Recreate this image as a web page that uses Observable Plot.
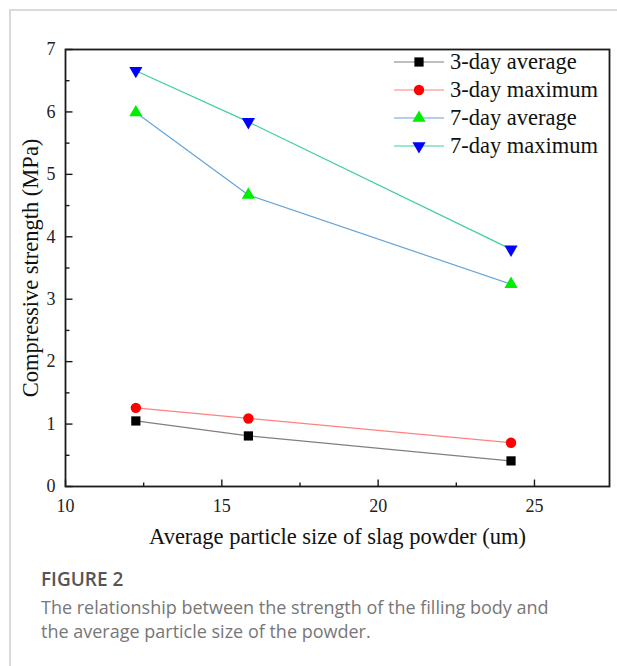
<!DOCTYPE html>
<html>
<head>
<meta charset="utf-8">
<script src="https://cdn.jsdelivr.net/npm/d3@7"></script>
<script src="https://cdn.jsdelivr.net/npm/@observablehq/plot@0.6"></script>
<style>
  html, body { margin: 0; padding: 0; background: #fff; }
  #wrap { position: relative; width: 617px; height: 666px; overflow: hidden; }
  #card { position: absolute; left: 9px; top: 9px; right: -5px; bottom: -5px;
          border-left: 2px solid #dadada; border-top: 2px solid #dadada; }
  #chart { position: absolute; left: 0; top: 0; }
  #legend { position: absolute; left: 394px; top: 48px;
            font-family: 'Liberation Serif', 'Times New Roman', serif; font-size: 22.5px; color: #111; }
  .row { height: 28px; display: flex; align-items: center; }
  .row svg { margin-right: 6px; }
  #caption { position: absolute; left: 41px; top: 567px; font-family: 'Open Sans', sans-serif; }
  #caption .fig { font-size: 19px; font-weight: 600; color: #555; line-height: 24px; }
  #caption .txt { font-size: 18px; color: #777; line-height: 24px; margin-top: 4px; }
</style>
</head>
<body>
<div id="wrap">
  <div id="card"></div>
  <div id="chart"></div>
  <div id="legend"></div>
  <div id="caption">
    <div class="fig">FIGURE 2</div>
    <div class="txt">The relationship between the strength of the filling body and<br>the average particle size of the powder.</div>
  </div>
</div>
<script>
// ---- data ----
const particleSize = [12.25, 15.85, 24.25];
const avg3day = [1.05, 0.81, 0.41];
const max3day = [1.26, 1.09, 0.70];
const avg7day = [5.99, 4.67, 3.24];
const max7day = [6.66, 5.84, 3.80];
const seriesNames = ["3-day average", "3-day maximum", "7-day average", "7-day maximum"];
const xMajorTicks = [10, 15, 20, 25];
const xMinorTicks = [12.5, 17.5, 22.5];
const yMajorTicks = [0, 1, 2, 3, 4, 5, 6, 7];
const yMinorTicks = [0.5, 1.5, 2.5, 3.5, 4.5, 5.5, 6.5];
const xLabel = "Average particle size of slag powder (um)";
const yLabel = "Compressive strength (MPa)";

// ---- styles ----
const serif = "'Liberation Serif', 'Times New Roman', serif";
const seriesValues = [avg3day, max3day, avg7day, max7day];
const lineColors = ["#7f7f7f", "#ff8080", "#64a4d8", "#3fcf9f"];
const markColors = ["#000000", "#ff0000", "#00ee00", "#0000ff"];
const symbols = ["square", "circle", "triangle", "triangle"];
const rotations = [0, 0, 0, 180];
const radii = [5.2, 5.2, 4.9, 4.9];

const rows = seriesValues.map((vals, k) => particleSize.map((s, i) => ({size: s, value: vals[i], k})));

const tickShape = {draw(context, l) { context.moveTo(0, 0); context.lineTo(0, -l); }};
const ink = "#1a1a1a";

const marks = [];
rows.forEach((data, k) => {
  marks.push(Plot.line(data, {x: "size", y: "value", stroke: lineColors[k], strokeWidth: 1.2}));
});
rows.forEach((data, k) => {
  marks.push(Plot.dot(data, {x: "size", y: "value", symbol: symbols[k], r: radii[k], fill: markColors[k], stroke: "none", rotate: rotations[k]}));
});
// inward ticks
marks.push(Plot.vector(yMajorTicks, {y: d => d, frameAnchor: "left", rotate: 90, length: 7, anchor: "start", shape: tickShape, stroke: ink, strokeWidth: 1.4, strokeLinecap: "butt"}));
marks.push(Plot.vector(yMinorTicks, {y: d => d, frameAnchor: "left", rotate: 90, length: 4, anchor: "start", shape: tickShape, stroke: ink, strokeWidth: 1.4, strokeLinecap: "butt"}));
marks.push(Plot.vector(xMajorTicks, {x: d => d, frameAnchor: "bottom", rotate: 0, length: 7, anchor: "start", shape: tickShape, stroke: ink, strokeWidth: 1.4, strokeLinecap: "butt"}));
marks.push(Plot.vector(xMinorTicks, {x: d => d, frameAnchor: "bottom", rotate: 0, length: 4, anchor: "start", shape: tickShape, stroke: ink, strokeWidth: 1.4, strokeLinecap: "butt"}));
marks.push(Plot.frame({stroke: ink, strokeWidth: 1.8}));
marks.push(Plot.axisY(yMajorTicks, {tickSize: 0, tickPadding: 10, fontSize: 18, fontFamily: serif, tickFormat: d3.format("d"), label: null, fill: "#222"}));
marks.push(Plot.axisX(xMajorTicks, {tickSize: 0, tickPadding: 13, fontSize: 18, fontFamily: serif, tickFormat: d3.format("d"), label: null, fill: "#222"}));
marks.push(Plot.text([xLabel], {text: d => d, frameAnchor: "bottom", dy: 50, fontSize: 22.5, fontFamily: serif, fill: "#111", textAnchor: "middle", lineAnchor: "middle"}));
marks.push(Plot.text([yLabel], {text: d => d, frameAnchor: "left", dx: -35, rotate: -90, fontSize: 22.5, fontFamily: serif, fill: "#111", textAnchor: "middle", lineAnchor: "middle"}));

const chart = Plot.plot({
  width: 617,
  height: 560,
  marginLeft: 65,
  marginRight: 8,
  marginTop: 49,
  marginBottom: 74,
  x: {domain: [10, 27.4]},
  y: {domain: [0, 7]},
  style: {fontFamily: serif, fontSize: "18px", color: "#111", background: "transparent"},
  marks
});
document.getElementById("chart").appendChild(chart);

// ---- legend ----
const legend = d3.select("#legend");
seriesNames.forEach((name, k) => {
  const row = legend.append("div").attr("class", "row");
  const svg = row.append("svg").attr("width", 50).attr("height", 28);
  svg.append("line").attr("x1", 0).attr("x2", 50).attr("y1", 14).attr("y2", 14)
    .attr("stroke", lineColors[k]).attr("stroke-width", 1.2);
  const symType = symbols[k] === "square" ? d3.symbolSquare : symbols[k] === "circle" ? d3.symbolCircle : d3.symbolTriangle;
  svg.append("path")
    .attr("d", d3.symbol(symType, Math.PI * radii[k] * radii[k])())
    .attr("transform", `translate(25,14) rotate(${rotations[k]})`)
    .attr("fill", markColors[k]);
  row.append("span").text(name);
});
</script>
</body>
</html>
